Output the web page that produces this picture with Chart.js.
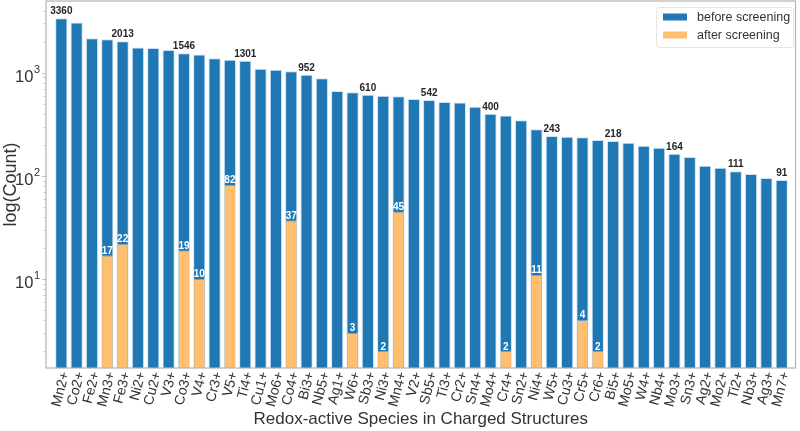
<!DOCTYPE html>
<html><head><meta charset="utf-8">
<script src="https://cdn.jsdelivr.net/npm/chart.js@4/dist/chart.umd.min.js"></script>
<style>html,body{margin:0;padding:0;background:#fff}#wrap{width:800px;height:431px;position:relative}</style>
</head><body><div id="wrap"><canvas id="c"></canvas></div>
<script>
const categories = ['Mn2+','Co2+','Fe2+','Mn3+','Fe3+','Ni2+','Cu2+','V3+','Co3+','V4+','Cr3+','V5+','Ti4+','Cu1+','Mo6+','Co4+','Bi3+','Nb5+','Ag1+','W6+','Sb3+','Ni3+','Mn4+','V2+','Sb5+','Ti3+','Cr2+','Sn4+','Mo4+','Cr4+','Sn2+','Ni4+','W5+','Cu3+','Cr5+','Cr6+','Bi5+','Mo5+','W4+','Nb4+','Mo3+','Sn3+','Ag2+','Mo2+','Ti2+','Nb3+','Ag3+','Mn7+'];
const beforeScreening = [3360,3070,2150,2110,2013,1758,1730,1656,1546,1503,1376,1334,1301,1091,1067,1029,952,881,664,645,610,597,589,554,542,519,515,468,400,385,345,282,243,239,236,222,218,209,196,187,164,152,125,120,111,104,95,91];
const afterScreening = [null,null,null,17,22,null,null,null,19,10,null,82,null,null,null,37,null,null,null,3,null,2,45,null,null,null,null,null,null,2,null,11,null,null,4,2,null,null,null,null,null,null,null,null,null,null,null,null];
const yTickValues = [10,100,1000];
const yTickBase = '10';
const yTickExponents = ['1','2','3'];
const seriesNames = ['before screening','after screening'];

const FONT = "'Liberation Sans', Arial, sans-serif";
const BLUE = '#1f77b4', ORANGE = '#ffbf6e';
Chart.defaults.font.family = FONT;

const boxPlugin = {
  id:'box',
  afterDatasetsDraw(chart){
    const {ctx, chartArea:a, scales:{x:xs, y:ys}} = chart;
    ctx.save();
    // minor ticks on y axis
    ctx.strokeStyle = '#c4c4c4'; ctx.lineWidth = 1;
    for (let e=0;e<4;e++){
      for (let m=1;m<10;m++){
        const v = m*Math.pow(10,e);
        if (v < ys.min || v > ys.max) continue;
        const py = Math.round(ys.getPixelForValue(v))+0.5;
        const len = m===1 ? 4 : 2.5;
        ctx.beginPath(); ctx.moveTo(a.left-len, py); ctx.lineTo(a.left, py); ctx.stroke();
      }
    }
    // y tick labels with superscript exponents
    ctx.fillStyle = '#333'; ctx.textBaseline = 'alphabetic';
    yTickValues.forEach((v,i)=>{
      const py = ys.getPixelForValue(v);
      ctx.font = "11px " + FONT; ctx.textAlign = 'right';
      const ew = ctx.measureText(yTickExponents[i]).width;
      const right = a.left - 6;
      ctx.fillText(yTickExponents[i], right, py + 0.5);
      ctx.font = "16.5px " + FONT;
      ctx.fillText(yTickBase, right - ew - 0.5, py + 9);
    });
    // frame
    ctx.strokeStyle = '#b3b3b3'; ctx.lineWidth = 1.2;
    ctx.strokeRect(a.left, a.top, a.right-a.left, a.bottom-a.top);
    // value annotations
    ctx.font = "bold 10px " + FONT; ctx.textAlign='center'; ctx.textBaseline='alphabetic';
    const last = beforeScreening.length-1;
    beforeScreening.forEach((v,i)=>{
      if (i%4===0 || i===last){
        ctx.fillStyle = '#262626';
        ctx.fillText(String(v), xs.getPixelForValue(i), ys.getPixelForValue(v)-4);
      }
    });
    afterScreening.forEach((v,i)=>{
      if (v!=null){
        ctx.fillStyle = '#ffffff';
        ctx.fillText(String(v), xs.getPixelForValue(i), ys.getPixelForValue(v)-1.5);
      }
    });
    // legend
    const lx=656, ly=7, lw=137, lh=40;
    ctx.fillStyle='rgba(255,255,255,0.85)'; ctx.strokeStyle='#e6e6e6'; ctx.lineWidth=1;
    ctx.beginPath(); ctx.roundRect(lx+0.5, ly+0.5, lw, lh, 3); ctx.fill(); ctx.stroke();
    const cols=[BLUE, ORANGE], cy=[17,35];
    ctx.font = "12.5px " + FONT; ctx.textAlign='left'; ctx.textBaseline='middle';
    seriesNames.forEach((n,k)=>{
      ctx.fillStyle=cols[k]; ctx.fillRect(663, cy[k]-3.5, 24, 7);
      ctx.fillStyle='#333'; ctx.fillText(n, 697, cy[k]+0.5);
    });
    ctx.restore();
  }
};

new Chart(document.getElementById('c'), {
  type:'bar',
  data:{
    datasets:[
      {label:seriesNames[1], data:afterScreening.map((v,i)=>({x:i,y:v})), backgroundColor:ORANGE, borderColor:'rgba(255,255,255,0.35)', borderWidth:1, grouped:false, order:0, barPercentage:1, categoryPercentage:0.8},
      {label:seriesNames[0], data:beforeScreening.map((v,i)=>({x:i,y:v})), backgroundColor:BLUE, borderColor:'rgba(190,220,245,0.8)', borderWidth:1, grouped:false, order:1, barPercentage:1, categoryPercentage:0.8}
    ]
  },
  options:{
    responsive:true, maintainAspectRatio:false, animation:false, devicePixelRatio:1,
    layout:{padding:{top:1,right:3,left:0,bottom:0}},
    plugins:{legend:{display:false}, tooltip:{enabled:false}},
    scales:{
      x:{type:'linear', min:-1, max:47.9, offset:false,
        afterBuildTicks:s=>{ s.ticks = categories.map((_,i)=>({value:i})); },
        ticks:{autoSkip:false, minRotation:75, maxRotation:75, padding:2, labelOffset:4, color:'#333', font:{size:14}, callback:(v,i)=>categories[i]},
        grid:{display:false, drawTicks:false}, border:{display:false},
        title:{display:true, text:'Redox-active Species in Charged Structures', color:'#333', font:{size:17}, padding:{top:0,bottom:1}},
        afterFit:s=>{ s.height = 63; }
      },
      y:{type:'logarithmic', min:1.37, max:4950,
        afterBuildTicks:s=>{ s.ticks = yTickValues.map(v=>({value:v})); },
        ticks:{display:false},
        grid:{display:false, drawTicks:false}, border:{display:false},
        title:{display:true, text:'log(Count)', color:'#333', font:{size:18}, padding:{top:0,bottom:0}},
        afterFit:s=>{ s.width = 46; }
      }
    }
  },
  plugins:[boxPlugin]
});
</script>
</body></html>
